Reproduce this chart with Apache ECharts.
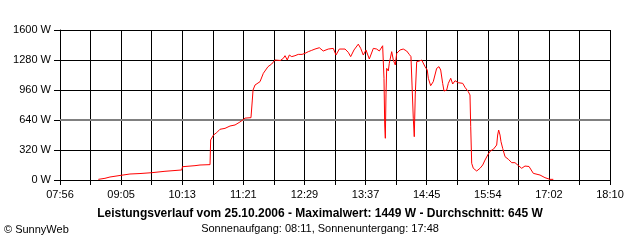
<!DOCTYPE html>
<html>
<head>
<meta charset="utf-8">
<script src="https://cdn.jsdelivr.net/npm/echarts@6/dist/echarts.min.js"></script>
<style>
html,body{margin:0;padding:0;background:#fff;}
#chart{width:640px;height:240px;}
</style>
</head>
<body>
<div id="chart"></div>
<script>
// Axis start 07:56 (minutes of day) and end 18:10
const axisStartMin = 476;
const axisEndMin = 1090;
const timeLabels = ["07:56","09:05","10:13","11:21","12:29","13:37","14:45","15:54","17:02","18:10"];

// Sample times (minutes since midnight)
const sampleMinutes = [
518.8,526.2,531.8,544.1,554.1,565.3,578.4,593.2,611.9,612.8,626.7,632.3,643.5,644.2,647.4,649.0,650.9,654.6,660.2,665.8,
671.4,676.9,680.0,682.5,689.2,690.7,691.5,693.7,699.3,703.0,708.2,712.3,716.0,722.0,725.3,727.2,729.7,732.0,734.7,738.3,
742.0,746.2,749.5,753.2,757.0,760.7,765.5,769.9,775.5,781.1,784.1,787.8,794.2,797.8,800.5,804.2,809.0,811.7,814.6,817.6,
821.3,825.8,829.5,832.5,836.2,837.7,838.5,839.2,839.9,840.7,842.5,843.6,846.3,848.1,850.3,851.9,855.6,859.2,863.0,865.9,
867.8,869.0,870.4,871.5,872.6,874.2,877.1,879.8,881.6,883.5,886.0,887.2,889.8,892.7,896.5,899.1,901.0,903.2,904.7,907.7,
909.5,912.2,914.4,917.0,920.6,925.6,928.1,931.8,933.7,934.5,935.6,937.4,941.2,944.9,947.9,950.5,954.1,956.8,959.7,961.6,
963.5,964.6,965.7,967.2,968.3,970.2,972.8,976.5,980.3,983.9,987.6,991.4,995.1,999.6,1004.4,1011.9,1017.4,1023.0,1026.7
];
// Power in W
const powerW = [
7,18,32,50,64,69,78,93,107,142,153,160,164,427,480,491,505,541,551,576,
587,619,640,660,665,853,960,1013,1049,1138,1209,1237,1280,1275,1298,1326,1280,1333,1316,1326,
1340,1340,1351,1369,1383,1397,1411,1376,1397,1404,1333,1397,1397,1362,1316,1387,1449,1404,1333,1387,
1291,1404,1397,1376,1432,1085,587,445,907,1191,1163,1245,1369,1280,1227,1351,1387,1397,1376,1340,
1316,1013,658,462,907,1262,1269,1280,1262,1209,1173,1085,1006,1049,1191,1209,1173,1031,949,960,
1031,1085,1024,1059,1038,1031,989,942,907,569,178,125,96,125,160,213,277,313,327,313,
373,480,533,480,409,338,249,221,185,185,155,125,149,144,71,53,25,7,7
];
const averageW = 645;
const yTicks = {min: 0, max: 1600, step: 320};

const span = axisEndMin - axisStartMin;
const step = span / 18;
const data = sampleMinutes.map((m, i) => [m - axisStartMin, powerW[i]]);

const font = "'Liberation Sans', Arial, sans-serif";
const chart = echarts.init(document.getElementById('chart'), null, {renderer: 'canvas'});
chart.setOption({
  animation: false,
  backgroundColor: '#ffffff',
  title: [
    {
      text: 'Leistungsverlauf vom 25.10.2006 - Maximalwert: 1449 W - Durchschnitt: 645 W',
      subtext: 'Sonnenaufgang: 08:11, Sonnenuntergang: 17:48',
      left: 'center', top: 208, itemGap: 3, padding: 0,
      textStyle: {fontFamily: font, fontSize: 12, fontWeight: 'bold', color: '#000'},
      subtextStyle: {fontFamily: font, fontSize: 11, color: '#000'}
    },
    {
      text: '© SunnyWeb', left: 4, top: 224, padding: 0,
      textStyle: {fontFamily: font, fontSize: 11, fontWeight: 'normal', color: '#000'}
    }
  ],
  grid: {left: 60, right: 30, top: 30, bottom: 60, containLabel: false},
  xAxis: {
    type: 'value', min: 0, max: span, interval: step,
    axisLine: {show: true, lineStyle: {color: '#000', width: 1}},
    axisTick: {show: true, length: 5, lineStyle: {color: '#000'}},
    splitLine: {show: true, lineStyle: {color: '#000', width: 1}},
    axisLabel: {
      margin: 9, fontFamily: font, fontSize: 11, color: '#000',
      formatter: function (v) {
        const idx = Math.round(v / step);
        return idx % 2 === 0 ? (timeLabels[idx / 2] || '') : '';
      }
    }
  },
  yAxis: {
    type: 'value', min: yTicks.min, max: yTicks.max, interval: yTicks.step,
    axisLine: {show: true, lineStyle: {color: '#000', width: 1}},
    axisTick: {show: true, length: 6, lineStyle: {color: '#000'}},
    splitLine: {show: true, lineStyle: {color: '#000', width: 1}},
    axisLabel: {
      margin: 9, fontFamily: font, fontSize: 11, color: '#000',
      formatter: function (v) { return String(Math.round(v)) + ' W'; }
    }
  },
  series: [{
    type: 'line', data: data, showSymbol: false, symbol: 'none',
    lineStyle: {color: '#ff0000', width: 1},
    itemStyle: {color: '#ff0000'},
    markLine: {
      silent: true, symbol: ['none', 'none'], label: {show: false},
      lineStyle: {color: '#808080', width: 2, type: 'solid'},
      data: [{yAxis: averageW}],
      z: 1
    }
  }]
});
</script>
</body>
</html>
